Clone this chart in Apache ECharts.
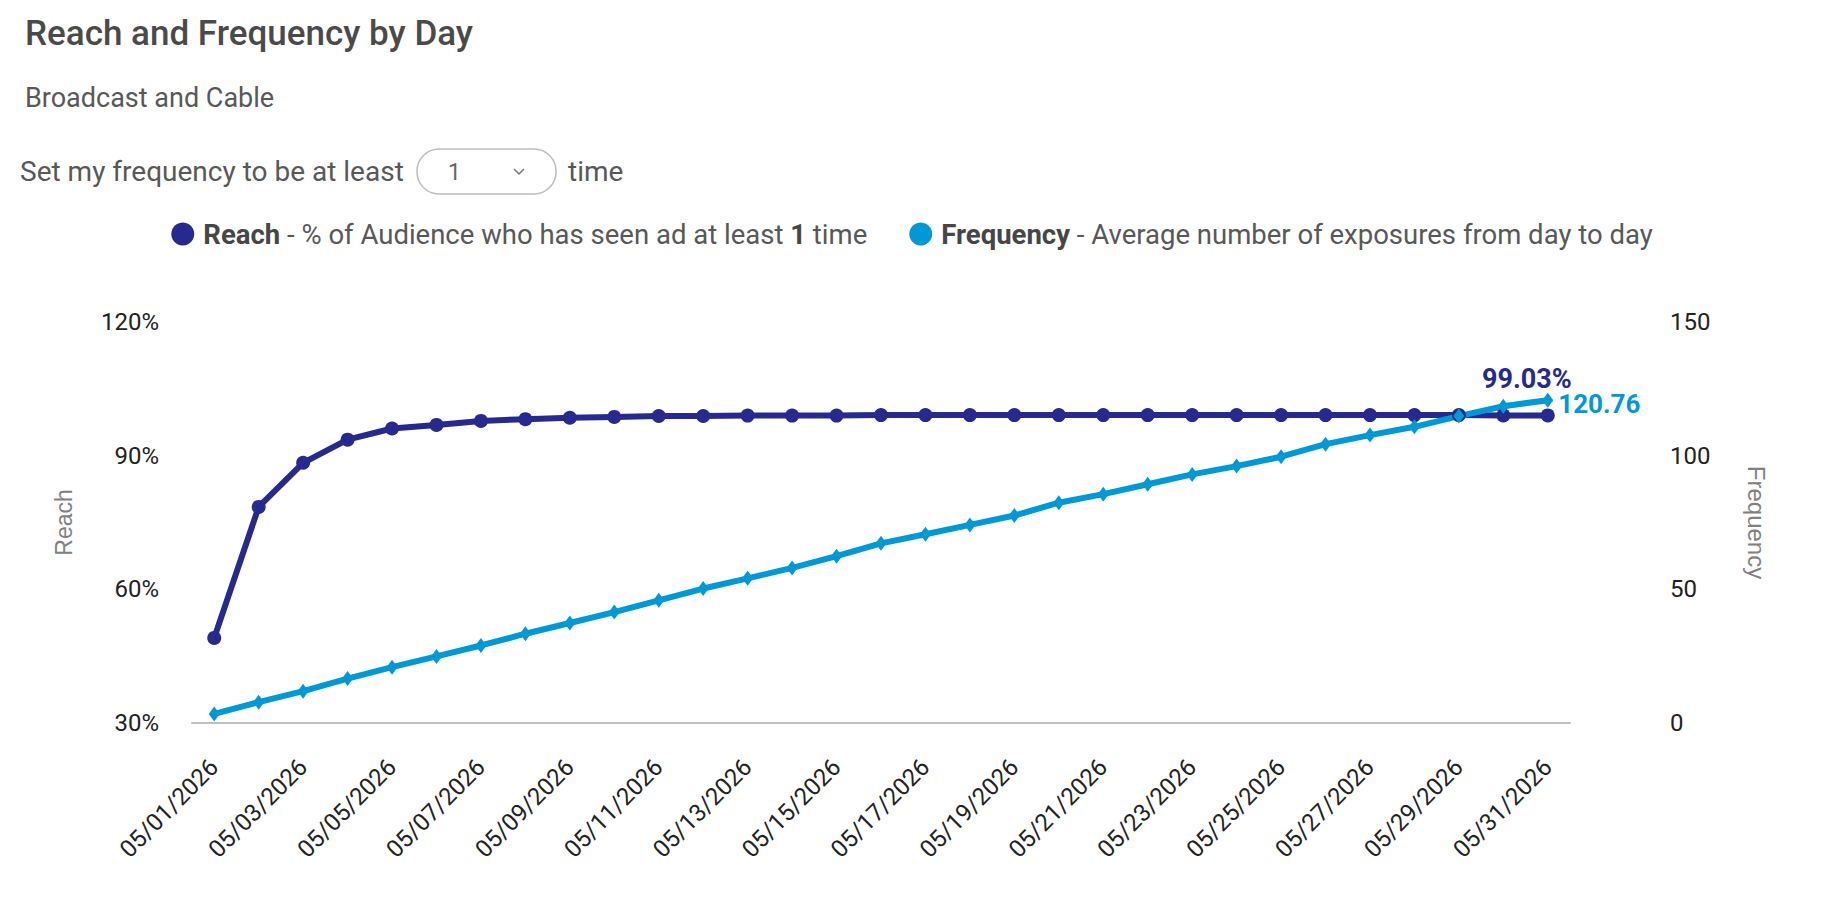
<!DOCTYPE html>
<html>
<head>
<meta charset="utf-8">
<title>Reach and Frequency by Day</title>
<script src="https://cdn.jsdelivr.net/npm/echarts@6/dist/echarts.min.js"></script>
<style>
  html, body { margin: 0; padding: 0; background: #fff; }
  #chart { width: 1824px; height: 914px; }
</style>
</head>
<body>
<div id="chart"></div>
<script>
// Data
const days = [
    '05/01/2026', '05/02/2026', '05/03/2026', '05/04/2026', '05/05/2026', '05/06/2026', '05/07/2026',
    '05/08/2026', '05/09/2026', '05/10/2026', '05/11/2026', '05/12/2026', '05/13/2026', '05/14/2026',
    '05/15/2026', '05/16/2026', '05/17/2026', '05/18/2026', '05/19/2026', '05/20/2026', '05/21/2026',
    '05/22/2026', '05/23/2026', '05/24/2026', '05/25/2026', '05/26/2026', '05/27/2026', '05/28/2026',
    '05/29/2026', '05/30/2026', '05/31/2026'
];

// Reach (% of audience), left axis
const reach = [
    49.1, 78.5, 88.4, 93.6, 96.1, 96.9, 97.8, 98.2, 98.5, 98.7,
    98.9, 98.9, 99.0, 99.0, 99.0, 99.1, 99.1, 99.1, 99.1, 99.1,
    99.1, 99.1, 99.1, 99.1, 99.1, 99.1, 99.1, 99.1, 99.1, 99.03, 99.03
];

// Frequency (average exposures), right axis
const frequency = [
    3.4, 7.8, 11.9, 16.6, 20.9, 24.9, 29.0, 33.4, 37.4, 41.5,
    45.9, 50.3, 54.1, 58.0, 62.4, 67.2, 70.6, 74.1, 77.6, 82.4,
    85.6, 89.3, 93.0, 96.1, 99.6, 104.3, 107.7, 110.8, 114.8, 118.5, 120.76
];

const reachTicks = { min: 30, max: 120, interval: 30 };
const freqTicks = { min: 0, max: 150, interval: 50 };

const REACH_COLOR = '#262a8f';
const FREQ_COLOR = '#0099d6';
const FONT = 'Roboto, "Noto Sans", sans-serif';

// only the last point carries a value label
function lastLabelled(values, label) {
    return values.map((v, i) => i === values.length - 1 ? { value: v, label: label } : v);
}

const chart = echarts.init(document.getElementById('chart'), null, { renderer: 'svg' });

chart.setOption({
    animation: false,
    textStyle: { fontFamily: FONT },
    title: [
        {
            text: 'Reach and Frequency by Day',
            left: 20, top: 11,
            textStyle: { fontSize: 35, fontWeight: 500, color: '#4a4a4a', fontFamily: FONT }
        },
        {
            text: 'Broadcast and Cable',
            left: 20, top: 79,
            textStyle: { fontSize: 27, fontWeight: 400, color: '#585858', fontFamily: FONT }
        }
    ],
    graphic: [
        {
            type: 'text', left: 20, top: 157,
            style: { text: 'Set my frequency to be at least', fontSize: 28, fill: '#585858', fontFamily: FONT }
        },
        {
            type: 'rect', shape: { x: 417, y: 149, width: 139, height: 45, r: 22 },
            style: { fill: '#fff', stroke: '#bdbdbd', lineWidth: 1.5 }
        },
        {
            type: 'text', left: 448, top: 161,
            style: { text: '1', fontSize: 23, fill: '#666', fontFamily: FONT }
        },
        {
            type: 'polyline', shape: { points: [[514, 169], [519, 174], [524, 169]] },
            style: { stroke: '#777', lineWidth: 1.5, fill: null }
        },
        {
            type: 'text', left: 568, top: 157,
            style: { text: 'time', fontSize: 28, fill: '#585858', fontFamily: FONT }
        }
    ],
    legend: {
        top: 215,
        left: 'center',
        icon: 'circle',
        itemWidth: 23,
        itemHeight: 23,
        itemGap: 42,
        selectedMode: false,
        data: ['Reach', 'Frequency'],
        formatter: function (name) {
            if (name === 'Reach') {
                return '{b|Reach} - % of Audience who has seen ad at least {b|1} time';
            }
            return '{b|Frequency} - Average number of exposures from day to day';
        },
        textStyle: {
            fontSize: 27.5,
            color: '#585858',
            fontFamily: FONT,
            padding: [0, 0, 0, 4],
            rich: {
                b: { fontSize: 27.5, fontWeight: 'bold', color: '#464646', fontFamily: FONT }
            }
        }
    },
    grid: { left: 192, right: 254, top: 322, bottom: 191 },
    xAxis: {
        type: 'category',
        data: days,
        boundaryGap: true,
        axisLine: { show: true, lineStyle: { color: '#c0c0c0', width: 2 } },
        axisTick: { show: false },
        axisLabel: { interval: 1, rotate: 45, margin: 40, fontSize: 24, color: '#222', fontFamily: FONT }
    },
    yAxis: [
        {
            type: 'value',
            min: reachTicks.min, max: reachTicks.max, interval: reachTicks.interval,
            name: 'Reach',
            nameLocation: 'middle',
            nameGap: 117,
            nameTextStyle: { fontSize: 23, color: '#808080', fontFamily: 'Liberation Sans, Arial, sans-serif' },
            axisLine: { show: false },
            axisTick: { show: false },
            splitLine: { show: false },
            axisLabel: { formatter: '{value}%', margin: 33, fontSize: 24, color: '#222', fontFamily: FONT }
        },
        {
            type: 'value',
            position: 'right',
            min: freqTicks.min, max: freqTicks.max, interval: freqTicks.interval,
            name: 'Frequency',
            nameLocation: 'middle',
            nameRotate: -90,
            nameGap: 174,
            nameTextStyle: { fontSize: 24, color: '#808080', fontFamily: 'Liberation Sans, Arial, sans-serif' },
            axisLine: { show: false },
            axisTick: { show: false },
            splitLine: { show: false },
            axisLabel: { margin: 100, fontSize: 24, color: '#222', fontFamily: FONT }
        }
    ],
    series: [
        {
            name: 'Reach',
            type: 'line',
            yAxisIndex: 0,
            data: lastLabelled(reach, {
                show: true,
                position: 'top',
                offset: [-21, -11],
                formatter: p => p.value.toFixed(2) + '%',
                fontSize: 27,
                fontWeight: 'bold',
                color: REACH_COLOR,
                fontFamily: FONT
            }),
            symbol: 'circle',
            symbolSize: 14,
            showAllSymbol: true,
            itemStyle: { color: REACH_COLOR },
            lineStyle: { color: REACH_COLOR, width: 6 }
        },
        {
            name: 'Frequency',
            type: 'line',
            yAxisIndex: 1,
            data: lastLabelled(frequency, {
                show: true,
                position: 'right',
                offset: [0, 4],
                formatter: p => p.value.toFixed(2),
                fontSize: 26,
                fontWeight: 'bold',
                color: FREQ_COLOR,
                fontFamily: FONT
            }),
            symbol: 'diamond',
            symbolSize: [11, 15],
            showAllSymbol: true,
            itemStyle: { color: FREQ_COLOR },
            lineStyle: { color: FREQ_COLOR, width: 6 }
        }
    ]
});

window.addEventListener('resize', () => chart.resize());
</script>
</body>
</html>
